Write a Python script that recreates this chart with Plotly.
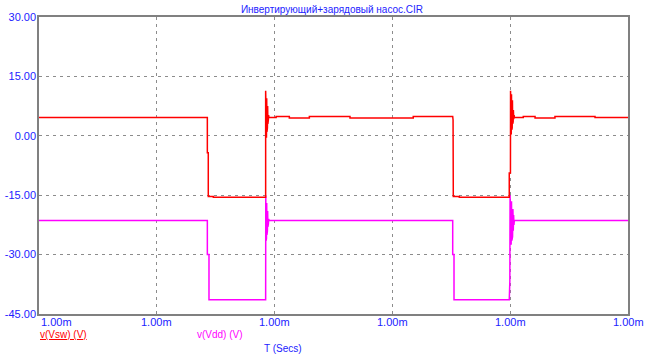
import plotly.graph_objects as go

# ---------------- data ----------------
# time axis in microseconds after 1.00 ms (each division = 10 us)
x_tick_vals = [0, 10, 20, 30, 40, 50]
x_tick_text = ["1.00m", "1.00m", "1.00m", "1.00m", "1.00m", "1.00m"]
y_tick_vals = [-45, -30, -15, 0, 15, 30]
y_tick_text = ["-45.00", "-30.00", "-15.00", "0.00", "15.00", "30.00"]

vsw_t = [0, 14.29, 14.29, 14.37, 14.37, 14.80, 14.80, 19.24,
         19.24, 19.27, 19.29, 19.31, 19.33, 19.35, 19.37, 19.39, 19.41, 19.43, 19.45, 19.47, 19.49, 19.52,
         20.13, 20.13, 21.25, 21.25, 22.95, 22.95, 26.40, 26.40, 31.77, 31.77,
         35.12, 35.15, 35.17, 35.68, 35.68, 39.92, 39.92, 40.02,
         40.03, 40.05, 40.07, 40.09, 40.11, 40.13, 40.15, 40.17, 40.19, 40.21, 40.23, 40.25, 40.27, 40.30, 40.33, 40.36,
         41.11, 41.11, 42.11, 42.11, 43.80, 43.80, 47.20, 47.20, 50.0]
vsw_v = [4.6, 4.6, -4.3, -4.3, -15.3, -15.3, -15.5, -15.5,
         11.4, 0.5, 10.5, -0.5, 9.5, 1.0, 8.5, 2.0, 7.5, 3.0, 6.5, 4.0, 5.2, 4.6,
         4.6, 4.9, 4.9, 4.5, 4.5, 4.9, 4.9, 4.5, 4.5, 4.9,
         4.9, 4.0, -15.3, -15.3, -15.5, -15.5, -9.4, -9.4,
         11.4, 1.0, 11.0, 0.3, 10.5, 1.5, 10.0, 2.0, 9.0, 3.0, 8.0, 3.5, 6.5, 4.2, 5.2, 4.6,
         4.6, 4.9, 4.9, 4.5, 4.5, 4.9, 4.9, 4.6, 4.6]

vdd_t = [0, 14.29, 14.29, 14.43, 14.43, 19.24,
         19.25, 19.27, 19.29, 19.31, 19.33, 19.35, 19.37, 19.39, 19.41, 19.43, 19.45, 19.47, 19.50, 19.53,
         35.12, 35.12, 35.23, 35.23, 39.92, 39.97,
         39.99, 40.02, 40.05, 40.08, 40.11, 40.14, 40.17, 40.20, 40.23, 40.26, 40.29, 40.32, 40.35,
         50.0]
vdd_v = [-21.4, -21.4, -30.0, -30.0, -41.4, -41.4,
         -15.0, -26.5, -16.0, -26.0, -17.0, -25.0, -18.0, -24.0, -19.0, -23.0, -20.0, -22.3, -21.0, -21.4,
         -21.4, -30.0, -30.0, -41.4, -41.4, -36.7,
         -15.0, -27.0, -15.5, -27.5, -16.5, -26.5, -17.5, -25.5, -18.5, -24.0, -20.0, -22.5, -21.4,
         -21.4]

title_text = "Инвертирующий+зарядовый насос.CIR"
legend_vsw = "v(Vsw) (V)"
legend_vdd = "v(Vdd) (V)"
x_title = "T (Secs)"

# ---------------- figure ----------------
BLUE = "#2222ff"
GRID = "#8c8c8c"
FONT = "Liberation Sans, Arial, sans-serif"

fig = go.Figure()
fig.add_trace(go.Scatter(x=vdd_t, y=vdd_v, mode="lines",
                         line=dict(color="#ff00ff", width=1.5), hoverinfo="skip"))
fig.add_trace(go.Scatter(x=vsw_t, y=vsw_v, mode="lines",
                         line=dict(color="#ff0000", width=1.5), hoverinfo="skip"))

W, H = 650, 356
L, R, T, B = 39, 22, 17, 42
pw, ph = W - L - R, H - T - B

def px_x(px):
    return (px - L) / pw

def px_y(py):
    return (H - B - py) / ph

annotations = []
for i, (v, t) in enumerate(zip(x_tick_vals, x_tick_text)):
    annotations.append(dict(x=v, xref="x", y=px_y(322), yref="paper", text=t,
                            showarrow=False, xanchor="left" if i == 0 else "center",
                            yanchor="middle", font=dict(family=FONT, size=11, color=BLUE)))
annotations += [
    dict(x=px_x(38), y=px_y(334), xref="paper", yref="paper", text="<u>" + legend_vsw + "</u>",
         showarrow=False, xanchor="left", yanchor="middle",
         font=dict(family=FONT, size=10, color="#ff0000")),
    dict(x=px_x(195), y=px_y(334), xref="paper", yref="paper", text=legend_vdd,
         showarrow=False, xanchor="left", yanchor="middle",
         font=dict(family=FONT, size=10, color="#ff00ff")),
    dict(x=px_x(262), y=px_y(348), xref="paper", yref="paper", text=x_title,
         showarrow=False, xanchor="left", yanchor="middle",
         font=dict(family=FONT, size=10, color=BLUE)),
]

fig.update_layout(
    width=W, height=H,
    margin=dict(l=L, r=R, t=T, b=B, pad=0, autoexpand=False),
    paper_bgcolor="white", plot_bgcolor="white",
    showlegend=False, hovermode=False,
    title=dict(text=title_text, x=px_x(332), xref="paper", xanchor="center",
               y=1 - 9.5 / H, yref="container", yanchor="middle",
               font=dict(family=FONT, size=10, color=BLUE)),
    annotations=annotations,
)
fig.update_xaxes(range=[0, 50], tickvals=x_tick_vals, showticklabels=False,
                 showgrid=True, gridcolor=GRID, gridwidth=1, griddash="3px,4px",
                 showline=True, linecolor="#808080", linewidth=1.5, mirror=True,
                 zeroline=False, ticks="", automargin=False)
fig.update_yaxes(range=[-45, 30], tickvals=y_tick_vals, ticktext=y_tick_text,
                 showgrid=True, gridcolor=GRID, gridwidth=1, griddash="3px,4px",
                 showline=True, linecolor="#808080", linewidth=1.5, mirror=True,
                 zeroline=False, ticks="", ticklabelstandoff=-1, automargin=False,
                 tickfont=dict(family=FONT, size=11, color=BLUE))

fig.write_html("out.html", config={"displayModeBar": False})
